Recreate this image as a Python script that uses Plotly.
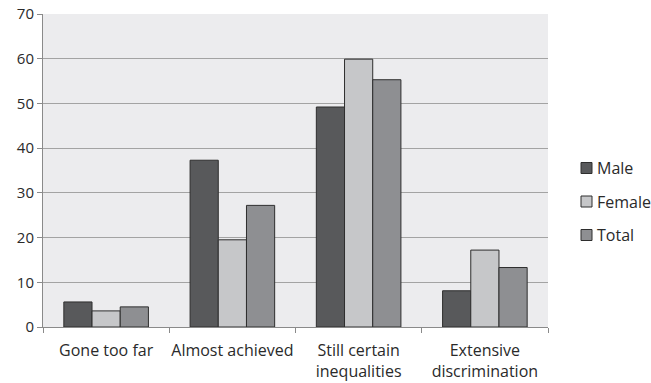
import plotly.graph_objects as go

categories = ["Gone too far", "Almost achieved", "Still certain<br>inequalities", "Extensive<br>discrimination"]
male = [5.6, 37.3, 49.2, 8.1]
female = [3.6, 19.5, 59.9, 17.2]
total = [4.5, 27.2, 55.3, 13.3]
y_ticks = [0, 10, 20, 30, 40, 50, 60, 70]

series = [
    ("Male", male, "#58595b"),
    ("Female", female, "#c6c7c9"),
    ("Total", total, "#8e8f92"),
]

W, H = 651, 383
ML, MR, MT, MB = 43, 103, 14, 56
plot_w = W - ML - MR
plot_h = H - MT - MB

fig = go.Figure()
for name, vals, color in series:
    fig.add_trace(go.Bar(
        x=categories, y=vals, name=name, showlegend=False,
        marker=dict(color=color, line=dict(color="#2e2e2e", width=1)),
    ))

# Legend drawn as small squares with labels to the right of the plot
legend_left_px = 581
legend_sq = 11
legend_rows_px = [168, 201.5, 235]
shapes, annotations = [], []
for (name, _, color), cy in zip(series, legend_rows_px):
    x0 = (legend_left_px - ML) / plot_w
    x1 = (legend_left_px + legend_sq - ML) / plot_w
    y0 = (H - MB - (cy + legend_sq / 2)) / plot_h
    y1 = (H - MB - (cy - legend_sq / 2)) / plot_h
    shapes.append(dict(type="rect", xref="paper", yref="paper", x0=x0, x1=x1, y0=y0, y1=y1,
                       fillcolor=color, line=dict(color="#2e2e2e", width=1)))
    annotations.append(dict(
        xref="paper", yref="paper",
        x=(legend_left_px + legend_sq + 3 - ML) / plot_w, y=(H - MB - cy) / plot_h,
        xanchor="left", yanchor="middle", text=name, showarrow=False,
        font=dict(size=16, color="#2a2a2a"),
    ))

fig.update_layout(
    width=W, height=H,
    margin=dict(l=ML, r=MR, t=MT, b=MB, autoexpand=False),
    paper_bgcolor="white",
    plot_bgcolor="#ececee",
    font=dict(family="Open Sans, Lato, sans-serif", size=16, color="#2a2a2a"),
    barmode="group",
    bargap=0.33,
    bargroupgap=0,
    showlegend=False,
    shapes=shapes,
    annotations=annotations,
    xaxis=dict(
        type="category",
        showgrid=False,
        showline=True, linecolor="#8a8a8a", linewidth=1,
        ticks="outside", tickson="boundaries", ticklen=5, tickcolor="#8a8a8a",
        tickfont=dict(size=16),
        tickangle=0,
        ticklabelstandoff=9,
        automargin=False,
    ),
    yaxis=dict(
        range=[0, 70],
        tickvals=y_ticks,
        showgrid=True, gridcolor="#a3a3a3", gridwidth=1,
        showline=True, linecolor="#8a8a8a", linewidth=1,
        ticks="outside", ticklen=5, tickcolor="#8a8a8a",
        tickfont=dict(size=15),
        zeroline=False,
        automargin=False,
    ),
)

fig.write_html("out.html")
